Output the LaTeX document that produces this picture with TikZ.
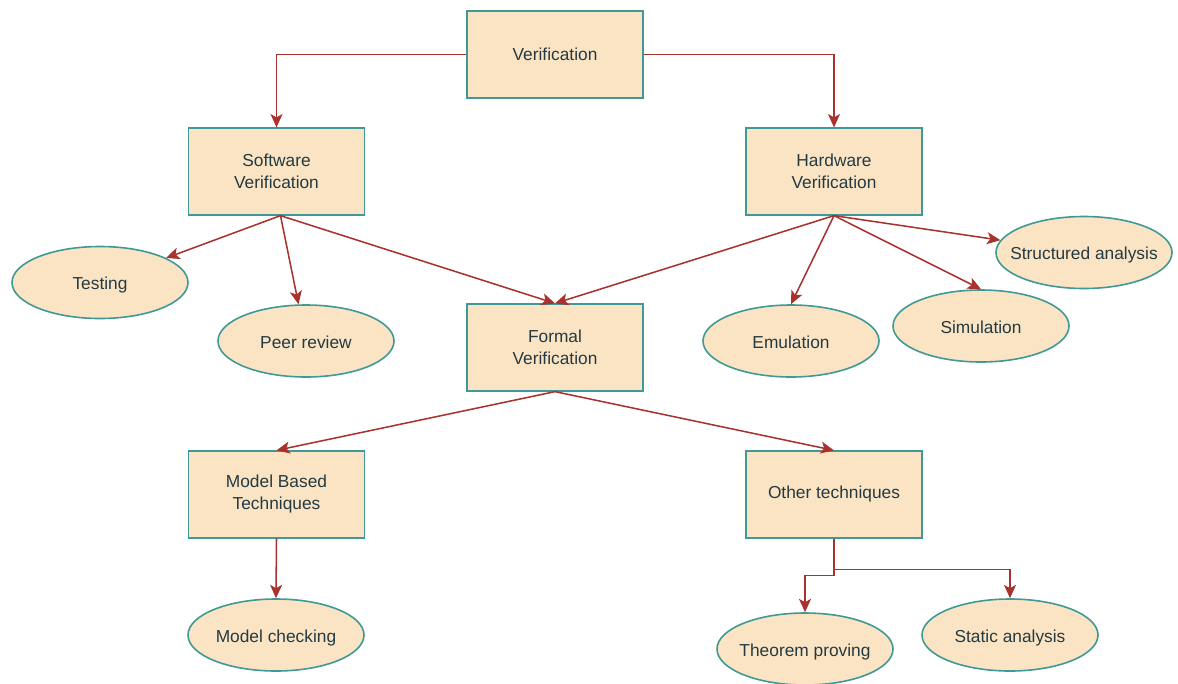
\documentclass[tikz,border=0pt]{standalone}
\usepackage{fontspec}
\setmainfont{Liberation Sans}
\usetikzlibrary{shapes.geometric,arrows.meta}
\definecolor{boxfill}{HTML}{FAE4C4}
\definecolor{boxline}{HTML}{3F9996}
\definecolor{arrowred}{HTML}{A8322D}
\definecolor{txt}{HTML}{243A42}
\tikzset{
  rbox/.style={draw=boxline, fill=boxfill, line width=1.2pt, rectangle,
    minimum width=132pt, minimum height=65pt, inner sep=0pt, align=center,
    text=txt, font=\fontsize{13}{16.5}\selectfont},
  oval/.style={draw=boxline, fill=boxfill, line width=1.2pt, ellipse,
    minimum width=132pt, minimum height=54pt, inner sep=0pt,
    text=txt, font=\fontsize{13}{16.5}\selectfont},
  arr/.style={draw=arrowred, line width=1.15pt,
    -{Stealth[length=10pt,width=9pt,inset=2.5pt]}}
}
\newcommand{\otxt}[1]{\raisebox{-5.6pt}[0pt][0pt]{\makebox[0pt]{#1}}}
\begin{document}
\begin{tikzpicture}[x=0.75pt,y=-0.75pt]
\path[use as bounding box] (0,0) rectangle (1178,683);
\clip (0,0) rectangle (1178,683);
% boxes
\node[rbox] (vf) at (555,54.5) {Verification};
\node[rbox] (sw) at (276.5,171.5) {Software\\Verification};
\node[rbox] (hw) at (834,171.5) {Hardware\\Verification};
\node[rbox] (fv) at (555,347.5) {Formal\\Verification};
\node[rbox] (mb) at (276.5,494.5) {Model Based\\Techniques};
\node[rbox] (ot) at (834,494.5) {Other techniques};
% ellipses
\node[oval] (test) at (100,282.5) {\otxt{Testing}};
\node[oval] (peer) at (306,341) {\otxt{Peer review}};
\node[oval] (emu) at (791,341) {\otxt{Emulation}};
\node[oval] (sim) at (981,326) {\otxt{Simulation}};
\node[oval] (sa1) at (1084,252.5) {\otxt{Structured analysis}};
\node[oval] (mc) at (276,635) {\otxt{Model checking}};
\node[oval] (thm) at (805,649) {\otxt{Theorem proving}};
\node[oval] (sa2) at (1010,635) {\otxt{Static analysis}};
% connectors
\draw[arr] (vf.west) -| (sw.north);
\draw[arr] (vf.east) -| (hw.north);
\coordinate (swb) at ([xshift=3pt]sw.south);
\draw[arr] (swb) -- (test);
\draw[arr] (swb) -- (peer);
\draw[arr] (swb) -- (fv.north);
\draw[arr] (hw.south) -- (fv.north);
\draw[arr] (hw.south) -- (emu.north);
\draw[arr] (hw.south) -- (sim.north);
\draw[arr] (hw.south) -- (sa1);
\draw[arr] (fv.south) -- (mb.north);
\draw[arr] (fv.south) -- (ot.north);
\draw[arr] (mb.south) -- (mc.north);
\draw[arr] (ot.south) -- ++(0,37) -| (thm.north);
\draw[arr] (ot.south) -- ++(0,31) -| (sa2.north);
\end{tikzpicture}
\end{document}
